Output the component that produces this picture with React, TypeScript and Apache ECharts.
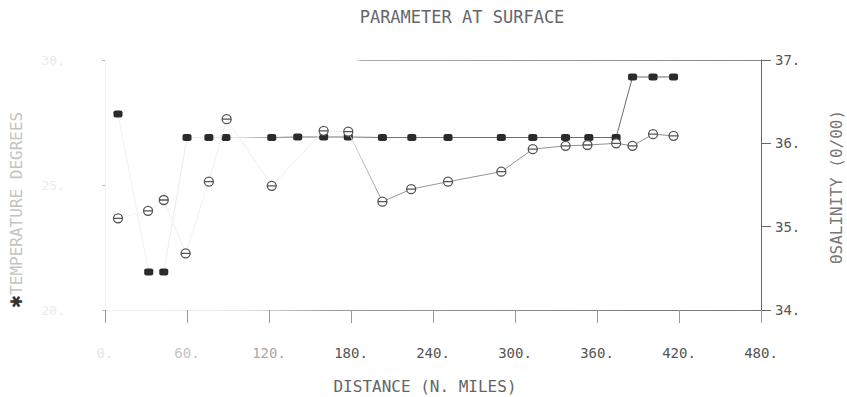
import React, { useEffect, useRef } from "react";
import * as echarts from "echarts";

// Station distances (n. miles) and surface readings
const tempDistance = [9.5, 32, 43, 60, 76, 88.5, 122, 141, 160, 178, 203, 224.5, 251, 290, 313, 337, 354, 374, 386, 401, 416];
const tempValues = [27.84, 21.52, 21.52, 26.9, 26.9, 26.9, 26.9, 26.92, 26.92, 26.92, 26.9, 26.9, 26.9, 26.9, 26.9, 26.9, 26.9, 26.9, 29.32, 29.32, 29.32];

const salDistance = [9.5, 31.5, 43, 59, 76, 89, 122, 160, 178, 203, 224, 251, 290, 313, 337, 353, 374, 386, 401, 416];
const salValues = [35.1, 35.19, 35.32, 34.68, 35.54, 36.29, 35.49, 36.15, 36.14, 35.3, 35.45, 35.54, 35.66, 35.93, 35.97, 35.98, 36.0, 35.97, 36.11, 36.09];

const distanceTicks = { min: 0, max: 480, interval: 60 };
const salinityTicks = { min: 34, max: 37, interval: 1 };
const temperatureTicks = { min: 20, max: 30, interval: 5 };

const MONO = "'DejaVu Sans Mono', 'Liberation Mono', monospace";
const GRID = { left: 105, right: 86, top: 60, bottom: 87 };
const PLOT_X0 = GRID.left;
const PLOT_X1 = 847 - GRID.right;

// Horizontal fade across the plot: the plotter trace is faint on the west side
function fade(stops: [number, string][]) {
  return {
    type: "linear",
    x: PLOT_X0,
    y: 0,
    x2: PLOT_X1,
    y2: 0,
    global: true,
    colorStops: stops.map(([offset, color]) => ({ offset, color })),
  };
}

const THETA = "path://M0,5 A5,5 0 1,1 10,5 A5,5 0 1,1 0,5 Z M0,5 L10,5";

export default function App() {
  const ref = useRef<HTMLDivElement>(null);

  useEffect(() => {
    document.body.style.margin = "0";
    const chart = echarts.init(ref.current!, null, { renderer: "svg" });

    const xLabelColor = (v: any) => {
      const n = Number(v);
      if (n === 0) return "#e6e6e6";
      if (n === 60) return "#c4c4c4";
      if (n === 120) return "#a8a8a8";
      return "#555";
    };

    chart.setOption({
      animation: false,
      backgroundColor: "#fff",
      graphic: [
        {
          type: "text",
          x: 462,
          y: 17,
          style: {
            text: "PARAMETER AT SURFACE",
            font: `17px ${MONO}`,
            fill: "#666",
            textAlign: "center",
            textVerticalAlign: "middle",
          },
        },
      ],
      grid: { ...GRID, outerBoundsMode: "none", containLabel: false },
      xAxis: [
        {
          type: "value",
          position: "bottom",
          ...distanceTicks,
          splitLine: { show: false },
          axisLine: {
            show: true,
            onZero: false,
            lineStyle: {
              width: 1,
              color: fade([
                [0, "#f2f2f2"],
                [0.2, "#e8e8e8"],
                [0.35, "#999"],
                [1, "#777"],
              ]),
            },
          },
          axisTick: { show: true, inside: false, length: 13, lineStyle: { color: "#999" } },
          axisLabel: {
            margin: 36,
            fontFamily: MONO,
            fontSize: 14,
            color: xLabelColor,
            formatter: (v: number) => `${v}.`,
          },
          name: "DISTANCE (N. MILES)",
          nameLocation: "middle",
          nameGap: 68,
          nameTextStyle: { fontFamily: MONO, fontSize: 16, color: "#666", padding: [0, 16, 0, 0] },
        },
        {
          type: "value",
          position: "top",
          ...distanceTicks,
          splitLine: { show: false },
          axisLine: {
            show: true,
            onZero: false,
            lineStyle: {
              width: 1,
              color: fade([
                [0, "rgba(255,255,255,0)"],
                [0.38, "rgba(255,255,255,0)"],
                [0.39, "#aaa"],
                [1, "#888"],
              ]),
            },
          },
          axisTick: { show: false },
          axisLabel: { show: false },
        },
      ],
      yAxis: [
        {
          type: "value",
          position: "left",
          ...temperatureTicks,
          splitLine: { show: false },
          axisLine: { show: true, onZero: false, lineStyle: { color: "#f2f2f2" } },
          axisTick: { show: true, length: 3, lineStyle: { color: "#bbb" } },
          axisLabel: {
            margin: 40,
            fontFamily: MONO,
            fontSize: 13,
            color: "#ebebeb",
            formatter: (v: number) => `${v}.`,
          },
          name: "{s|✱}TEMPERATURE DEGREES",
          nameLocation: "middle",
          nameGap: 81,
          nameRotate: 90,
          nameTextStyle: {
            fontFamily: MONO,
            fontSize: 16,
            color: "#c4c4c4",
            padding: [0, 50, 0, 0],
            rich: {
              s: { fontFamily: "'DejaVu Sans', sans-serif", fontSize: 16, color: "#333" },
            },
          },
        },
        {
          type: "value",
          position: "right",
          ...salinityTicks,
          splitLine: { show: false },
          axisLine: { show: true, onZero: false, lineStyle: { color: "#666" } },
          axisTick: { show: true, inside: false, length: 10, lineStyle: { color: "#666" } },
          axisLabel: {
            margin: 14,
            fontFamily: MONO,
            fontSize: 14,
            color: "#555",
            formatter: (v: number) => `${v}.`,
          },
          name: "ΘSALINITY (0/00)",
          nameLocation: "middle",
          nameGap: 67,
          nameRotate: 90,
          nameTextStyle: { fontFamily: MONO, fontSize: 16, color: "#777", padding: [0, 4, 0, 0] },
        },
      ],
      series: [
        {
          name: "TEMPERATURE",
          type: "line",
          xAxisIndex: 0,
          yAxisIndex: 0,
          data: tempDistance.map((d, i) => [d, tempValues[i]]),
          symbol: "roundRect",
          symbolSize: [9, 7],
          itemStyle: { color: "#2b2b2b" },
          lineStyle: {
            width: 1,
            color: fade([
              [0, "#f4f4f4"],
              [0.2, "#e4e4e4"],
              [0.28, "#777"],
              [1, "#666"],
            ]),
          },
          z: 2,
        },
        {
          name: "SALINITY",
          type: "line",
          xAxisIndex: 0,
          yAxisIndex: 1,
          data: salDistance.map((d, i) => [d, salValues[i]]),
          symbol: THETA,
          symbolSize: 9,
          itemStyle: { color: "#fff", borderColor: "#555", borderWidth: 1.3 },
          lineStyle: {
            width: 1,
            color: fade([
              [0, "#f4f4f4"],
              [0.36, "#eaeaea"],
              [0.42, "#999"],
              [1, "#888"],
            ]),
          },
          z: 3,
        },
      ],
    });

    return () => chart.dispose();
  }, []);

  return <div ref={ref} style={{ width: 847, height: 397 }} />;
}
